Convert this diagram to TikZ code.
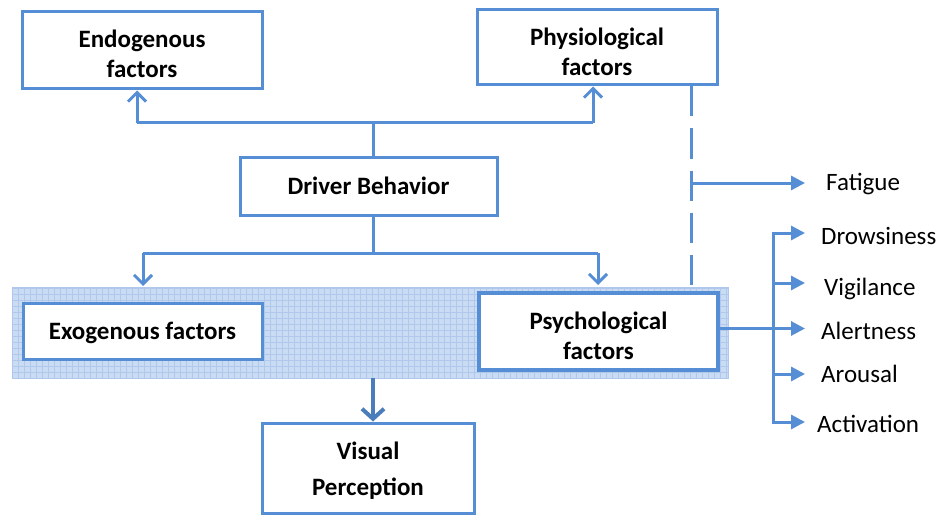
\documentclass[tikz,border=0pt]{standalone}
\usepackage{fontspec}
\setmainfont{Carlito}
\usetikzlibrary{arrows.meta}
\definecolor{ln}{HTML}{558ED5}
\definecolor{dk}{HTML}{4A7EBB}
\definecolor{bandfill}{HTML}{CADCF3}
\definecolor{bandgrid}{HTML}{AFC8EC}
\begin{document}
\begin{tikzpicture}[x=1pt,y=-1pt,
  box/.style={draw=ln, line width=3pt, fill=white, inner sep=0pt},
  txt/.style={align=center, inner sep=0pt, font=\fontsize{25}{30}\selectfont\bfseries},
  lab/.style={font=\fontsize{25}{30}\selectfont, anchor=west, inner sep=0pt},
  conn/.style={draw=ln, line width=3pt},
  barb/.style={conn, -{Straight Barb[length=9pt,width=18pt,line width=3pt]}},
  tri/.style={conn, -{Triangle[length=14pt,width=14pt]}},
  dtri/.style={conn, {Triangle[length=14pt,width=14pt]}-{Triangle[length=14pt,width=14pt]}}]
\useasboundingbox (0,0) rectangle (942,516);
\fill[white] (0,0) rectangle (942,516);
% band
\fill[bandfill] (12,287) rectangle (728,378);
\begin{scope}
  \clip (12,287) rectangle (728,378);
  \draw[bandgrid, line width=0.7pt, step=6pt] (0,280) grid (740,390);
\end{scope}
\draw[bandgrid, line width=0.8pt] (12,287) rectangle (728,378);
% boxes
\node[box, minimum width=240pt, minimum height=77pt] (endo) at (142,50.5) {};
\node[box, minimum width=240pt, minimum height=75pt] (physio) at (597,47.5) {};
\node[box, minimum width=257pt, minimum height=58pt] (driver) at (368.5,186) {};
\node[box, minimum width=239pt, minimum height=56pt] (exo) at (142.5,331) {};
\node[box, line width=3.5pt, minimum width=239pt, minimum height=77pt] (psych) at (598.5,331.5) {};
\node[box, minimum width=212pt, minimum height=90pt] (visual) at (368,468) {};
% box texts
\node[txt] (endoT) at ([yshift=-3pt]endo.center) {Endogenous\\factors};
\node[txt] (physioT) at ([yshift=-4pt]physio.center) {Physiological\\factors};
\node[txt] (driverT) at (driver.center) {Driver Behavior};
\node[txt] (exoT) at ([yshift=-2pt]exo.center) {Exogenous factors};
\node[txt] (psychT) at ([yshift=-4pt]psych.center) {Psychological\\factors};
\node[txt, font=\fontsize{25}{36}\selectfont\bfseries] (visualT) at ([yshift=-3pt]visual.center) {Visual\\Perception};
% labels
\node[lab] (fat) at (826,184) {Fatigue};
\node[lab] (drow) at (821,236) {Drowsiness};
\node[lab] (vig) at (824,289) {Vigilance};
\node[lab] (alert) at (821,331) {Alertness};
\node[lab] (arou) at (821,374) {Arousal};
\node[lab] (act) at (817,424) {Activation};
% coordinates
\coordinate (jt) at (373,123);
\coordinate (jl) at (137,123);
\coordinate (jr) at (593,123);
\coordinate (jb) at (373,253);
\coordinate (bl) at (143,253);
\coordinate (br) at (598,253);
\coordinate (al) at (143,286);
\coordinate (ar) at (598,285);
\coordinate (ds) at (691,287);
\coordinate (fj) at (691,183);
\coordinate (ft) at (805,183);
\coordinate (tr1) at (773,233);
\coordinate (tr2) at (773,283);
\coordinate (tr4) at (773,374);
\coordinate (tr5) at (773,422);
\coordinate (t1) at (805,233);
\coordinate (t2) at (805,283);
\coordinate (t3) at (805,328.5);
\coordinate (t4) at (805,374);
\coordinate (t5) at (805,422);
\coordinate (vb) at (373,378);
% upper connectors
\draw[conn] (driver.north -| jt) -- (jt);
\draw[conn] (jl) -- (jr);
\draw[barb] (jl) -- (jl |- endo.south);
\draw[barb] (jr) -- (jr |- physio.south);
% lower connectors
\draw[conn] (driver.south -| jb) -- (jb);
\draw[conn] (bl) -- (br);
\draw[barb] (bl) -- (al);
\draw[barb] (br) -- (ar);
% dashed
\draw[conn, dash pattern=on 30pt off 12pt] (physio.south -| ds) -- (ds);
\draw[tri] (fj) -- (ft);
% right branch
\draw[tri] ([yshift=3pt]psych.east) -- (t3);
\draw[dtri] (t1) -- (tr1) -- (tr5) -- (t5);
\draw[tri] (tr2) -- (t2);
\draw[tri] (tr4) -- (t4);
% thick arrow
\draw[dk, line width=4pt, -{Straight Barb[length=10pt,width=22pt,line width=4pt]}] (vb) -- (vb |- visual.north);
\end{tikzpicture}
\end{document}
